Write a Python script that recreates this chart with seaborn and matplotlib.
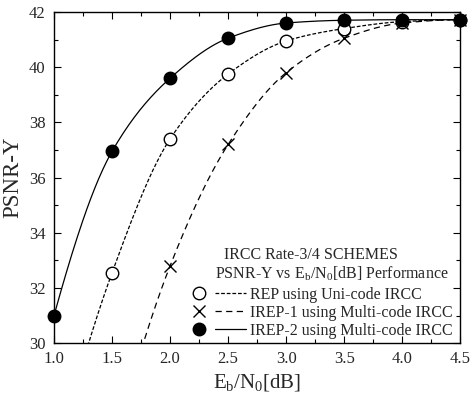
import numpy as np
import matplotlib
matplotlib.use('Agg')
import matplotlib.pyplot as plt
import seaborn as sns
from matplotlib.lines import Line2D
from matplotlib.legend_handler import HandlerTuple
from matplotlib.ticker import MultipleLocator, FormatStrFormatter

# Eb/N0 [dB] values
ebn0 = [1.0, 1.5, 2.0, 2.5, 3.0, 3.5, 4.0, 4.5]

# PSNR-Y (None = no point; values below 30 are line only)
rep_uni = [25.5, 32.55, 37.4, 39.75, 40.95, 41.4, 41.65, 41.72]
irep1_multi = [None, 26.0, 32.8, 37.2, 39.8, 41.05, 41.6, 41.72]
irep2_multi = [31.0, 36.95, 39.6, 41.05, 41.6, 41.7, 41.72, 41.72]

labels = ['REP using Uni-code IRCC',
          'IREP-1 using Multi-code IRCC',
          'IREP-2 using Multi-code IRCC']


def pchip(x, y, xs):
    """Monotone cubic curve through the points, only used to draw a smooth line."""
    x = np.asarray(x, float)
    y = np.asarray(y, float)
    h = np.diff(x)
    d = np.diff(y) / h
    n = len(x)
    m = np.zeros(n)
    for k in range(1, n - 1):
        if d[k - 1] * d[k] > 0:
            w1 = 2 * h[k] + h[k - 1]
            w2 = h[k] + 2 * h[k - 1]
            m[k] = (w1 + w2) / (w1 / d[k - 1] + w2 / d[k])
    m[0] = ((2 * h[0] + h[1]) * d[0] - h[0] * d[1]) / (h[0] + h[1])
    if np.sign(m[0]) != np.sign(d[0]):
        m[0] = 0
    m[-1] = ((2 * h[-1] + h[-2]) * d[-1] - h[-1] * d[-2]) / (h[-1] + h[-2])
    if np.sign(m[-1]) != np.sign(d[-1]):
        m[-1] = 0
    idx = np.clip(np.searchsorted(x, xs) - 1, 0, n - 2)
    t = (xs - x[idx]) / h[idx]
    h00 = 2 * t**3 - 3 * t**2 + 1
    h10 = t**3 - 2 * t**2 + t
    h01 = -2 * t**3 + 3 * t**2
    h11 = t**3 - t**2
    return (h00 * y[idx] + h10 * h[idx] * m[idx]
            + h01 * y[idx + 1] + h11 * h[idx] * m[idx + 1])


sns.set_style('ticks')
plt.rcParams['font.family'] = ['Liberation Serif', 'DejaVu Serif']
plt.rcParams['mathtext.fontset'] = 'custom'
plt.rcParams['mathtext.rm'] = 'Liberation Serif'
plt.rcParams['mathtext.it'] = 'Liberation Serif'

fig = plt.figure(figsize=(4.74, 3.99), dpi=100)
ax = fig.add_axes([0.114, 0.140, 0.857, 0.830])

styles = [
    dict(marker='o', mfc='white', ls=(0, (3, 1.5)), ms=9),
    dict(marker='x', mfc='black', ls=(0, (5, 3.5)), ms=9),
    dict(marker='o', mfc='black', ls='-', ms=9),
]

handles = []
for series, st, lab in zip([rep_uni, irep1_multi, irep2_multi], styles, labels):
    xs_pts = [x for x, y in zip(ebn0, series) if y is not None]
    ys_pts = [y for y in series if y is not None]
    xx = np.linspace(xs_pts[0], xs_pts[-1], 300)
    ax.plot(xx, pchip(xs_pts, ys_pts, xx), color='black', lw=0.9, ls=st['ls'])
    vis = [(x, y) for x, y in zip(xs_pts, ys_pts) if y >= 30]
    sns.lineplot(x=[v[0] for v in vis], y=[v[1] for v in vis], ax=ax,
                 marker=st['marker'], markersize=st['ms'], markerfacecolor=st['mfc'],
                 markeredgecolor='black', markeredgewidth=1.0, linestyle='',
                 color='black', clip_on=False, zorder=5, legend=False)
    mh = Line2D([], [], marker=st['marker'], ms=st['ms'], mfc=st['mfc'],
                mec='black', mew=1.0, ls='')
    lh = Line2D([], [], color='black', lw=0.9, ls=st['ls'])
    handles.append((mh, lh))

ax.set_xlim(1.0, 4.5)
ax.set_ylim(30, 42)
ax.xaxis.set_major_locator(MultipleLocator(0.5))
ax.xaxis.set_minor_locator(MultipleLocator(0.25))
ax.yaxis.set_major_locator(MultipleLocator(2))
ax.yaxis.set_minor_locator(MultipleLocator(1))
ax.xaxis.set_major_formatter(FormatStrFormatter('%.1f'))
ax.tick_params(which='both', direction='in', top=True, right=True, labelsize=12,
               color='black', width=0.8)
ax.tick_params(which='major', length=5, pad=6)
ax.tick_params(which='minor', length=3)
for s in ax.spines.values():
    s.set_color('black')
    s.set_linewidth(1.0)

ax.set_xlabel(r'E$_\mathrm{b}$/N$_\mathrm{0}$[dB]', fontsize=15, labelpad=3)
ax.set_ylabel('PSNR-Y', fontsize=16.5, labelpad=4)

ax.text(0.419, 0.266, 'IRCC Rate-3/4 SCHEMES', transform=ax.transAxes,
        fontsize=11.5, va='center', ha='left')
ax.text(0.397, 0.208, r'PSNR-Y vs E$_\mathrm{b}$/N$_\mathrm{0}$[dB] Performance',
        transform=ax.transAxes, fontsize=11.5, va='center', ha='left')

ax.legend(handles, labels, handler_map={tuple: HandlerTuple(ndivide=None, pad=0.0)},
          loc='lower right', bbox_to_anchor=(1.008, -0.02), frameon=False,
          fontsize=11.5, handlelength=3.9, handletextpad=0.25, labelspacing=0.12,
          borderaxespad=0.3)

fig.savefig('out.png', dpi=100)
